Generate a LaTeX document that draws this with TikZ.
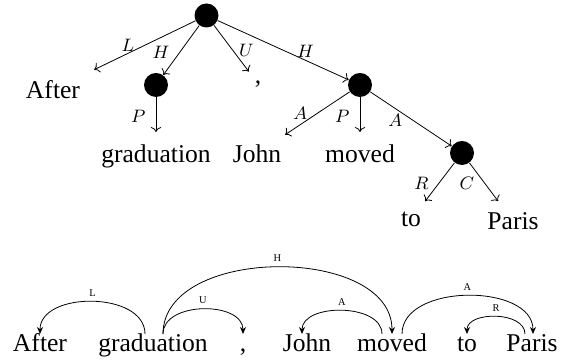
\documentclass[tikz,border=0pt]{standalone}
\usepackage{fontspec}
\setmainfont{Liberation Serif}
\usetikzlibrary{arrows.meta}
\newcommand{\wordsize}{\fontsize{12.8}{15}\selectfont}
\newcommand{\relsize}{\fontsize{9}{10}\selectfont}
\newcommand{\depsize}{\fontsize{5.2}{6}\selectfont}

\begin{document}
\begin{tikzpicture}[x=0.5pt,y=0.5pt,
  unit/.style={circle,fill=black,minimum size=12pt,inner sep=0pt},
  word/.style={font=\wordsize,inner sep=3pt,anchor=north},
  flat/.style={font=\wordsize,inner sep=2pt,anchor=base,text height=0.68em,text depth=0.22em},
  rel/.style={font=\relsize,inner sep=1pt},
  dep/.style={font=\depsize,inner sep=1pt,midway,above=1.5pt},
  tree/.style={->},
  toword/.style={shorten >=3pt},
  arc/.style={-{Stealth[length=3.5pt,width=3pt]}}]
\useasboundingbox (0,0) rectangle (569,363);

\node[unit] (r) at (206.5,347.5) {};
\node[word] (after) at (53,289) {After};
\node[unit] (h) at (156,278) {};
\node[word] (comma) at (258,289) {,};
\node[unit] (s) at (360,278) {};
\node[word] (grad) at (156,225) {graduation};
\node[word] (john) at (257,225) {John};
\node[word] (moved) at (360,225) {moved};
\node[unit] (c) at (462,210) {};
\node[word] (to) at (411,157) {to};
\node[word] (paris) at (513,157) {Paris};

\path

(r)
edge [tree, shorten >=5pt]
node [rel, pos=0.46, left=4pt] {$L$}
(after)

(r)
edge [tree]
node [rel, pos=0.54, left=4pt] {$H$}
(h)

(r)
edge [tree, shorten >=1.5pt]
node [rel, pos=0.51, right=2pt] {$U$}
(comma)

(r)
edge [tree]
node [rel, pos=0.67, above] {$H$}
(s)

(h)
edge [tree, toword]
node [rel, pos=0.46, left=4pt] {$P$}
(grad)

(s)
edge [tree, toword]
node [rel, pos=0.46, left=4pt] {$A$}
(john)

(s)
edge [tree, toword]
node [rel, pos=0.46, left=4pt] {$P$}
(moved)

(s)
edge [tree]
node [rel, pos=0.52, left=4pt] {$A$}
(c)

(c)
edge [tree, toword]
node [rel, pos=0.47, left=4pt] {$R$}
(to)

(c)
edge [tree, toword]
node [rel, pos=0.47, left=4pt] {$C$}
(paris)

;

\node[flat] (after2) at (40,11) {After};
\node[flat] (grad2) at (153,11) {graduation};
\node[flat] (comma2) at (243,11) {,};
\node[flat] (john2) at (307,11) {John};
\node[flat] (moved2) at (392,11) {moved};
\node[flat] (to2) at (467,11) {to};
\node[flat] (paris2) at (532,11) {Paris};

\draw[arc] ([xshift=-4pt]grad2.north) .. controls +(0,43) and +(0,43) .. node[dep] {L} (after2.north);
\draw[arc] ([xshift=5pt]grad2.north) .. controls +(0,33) and +(0,33) .. node[dep] {U} (comma2.north);
\draw[arc] ([xshift=5pt]grad2.north) .. controls +(0,89) and +(0,89) .. node[dep] {H} (moved2.north);
\draw[arc] ([xshift=-5pt]moved2.north) .. controls +(0,31) and +(0,31) .. node[dep] {A} ([xshift=-2.5pt]john2.north);
\draw[arc] ([xshift=5pt]moved2.north) .. controls +(0,51) and +(0,51) .. node[dep] {A} ([xshift=0.5pt]paris2.north);
\draw[arc] ([xshift=-3.5pt]paris2.north) .. controls +(0,23) and +(0,23) .. node[dep] {R} (to2.north);
\end{tikzpicture}
\end{document}
